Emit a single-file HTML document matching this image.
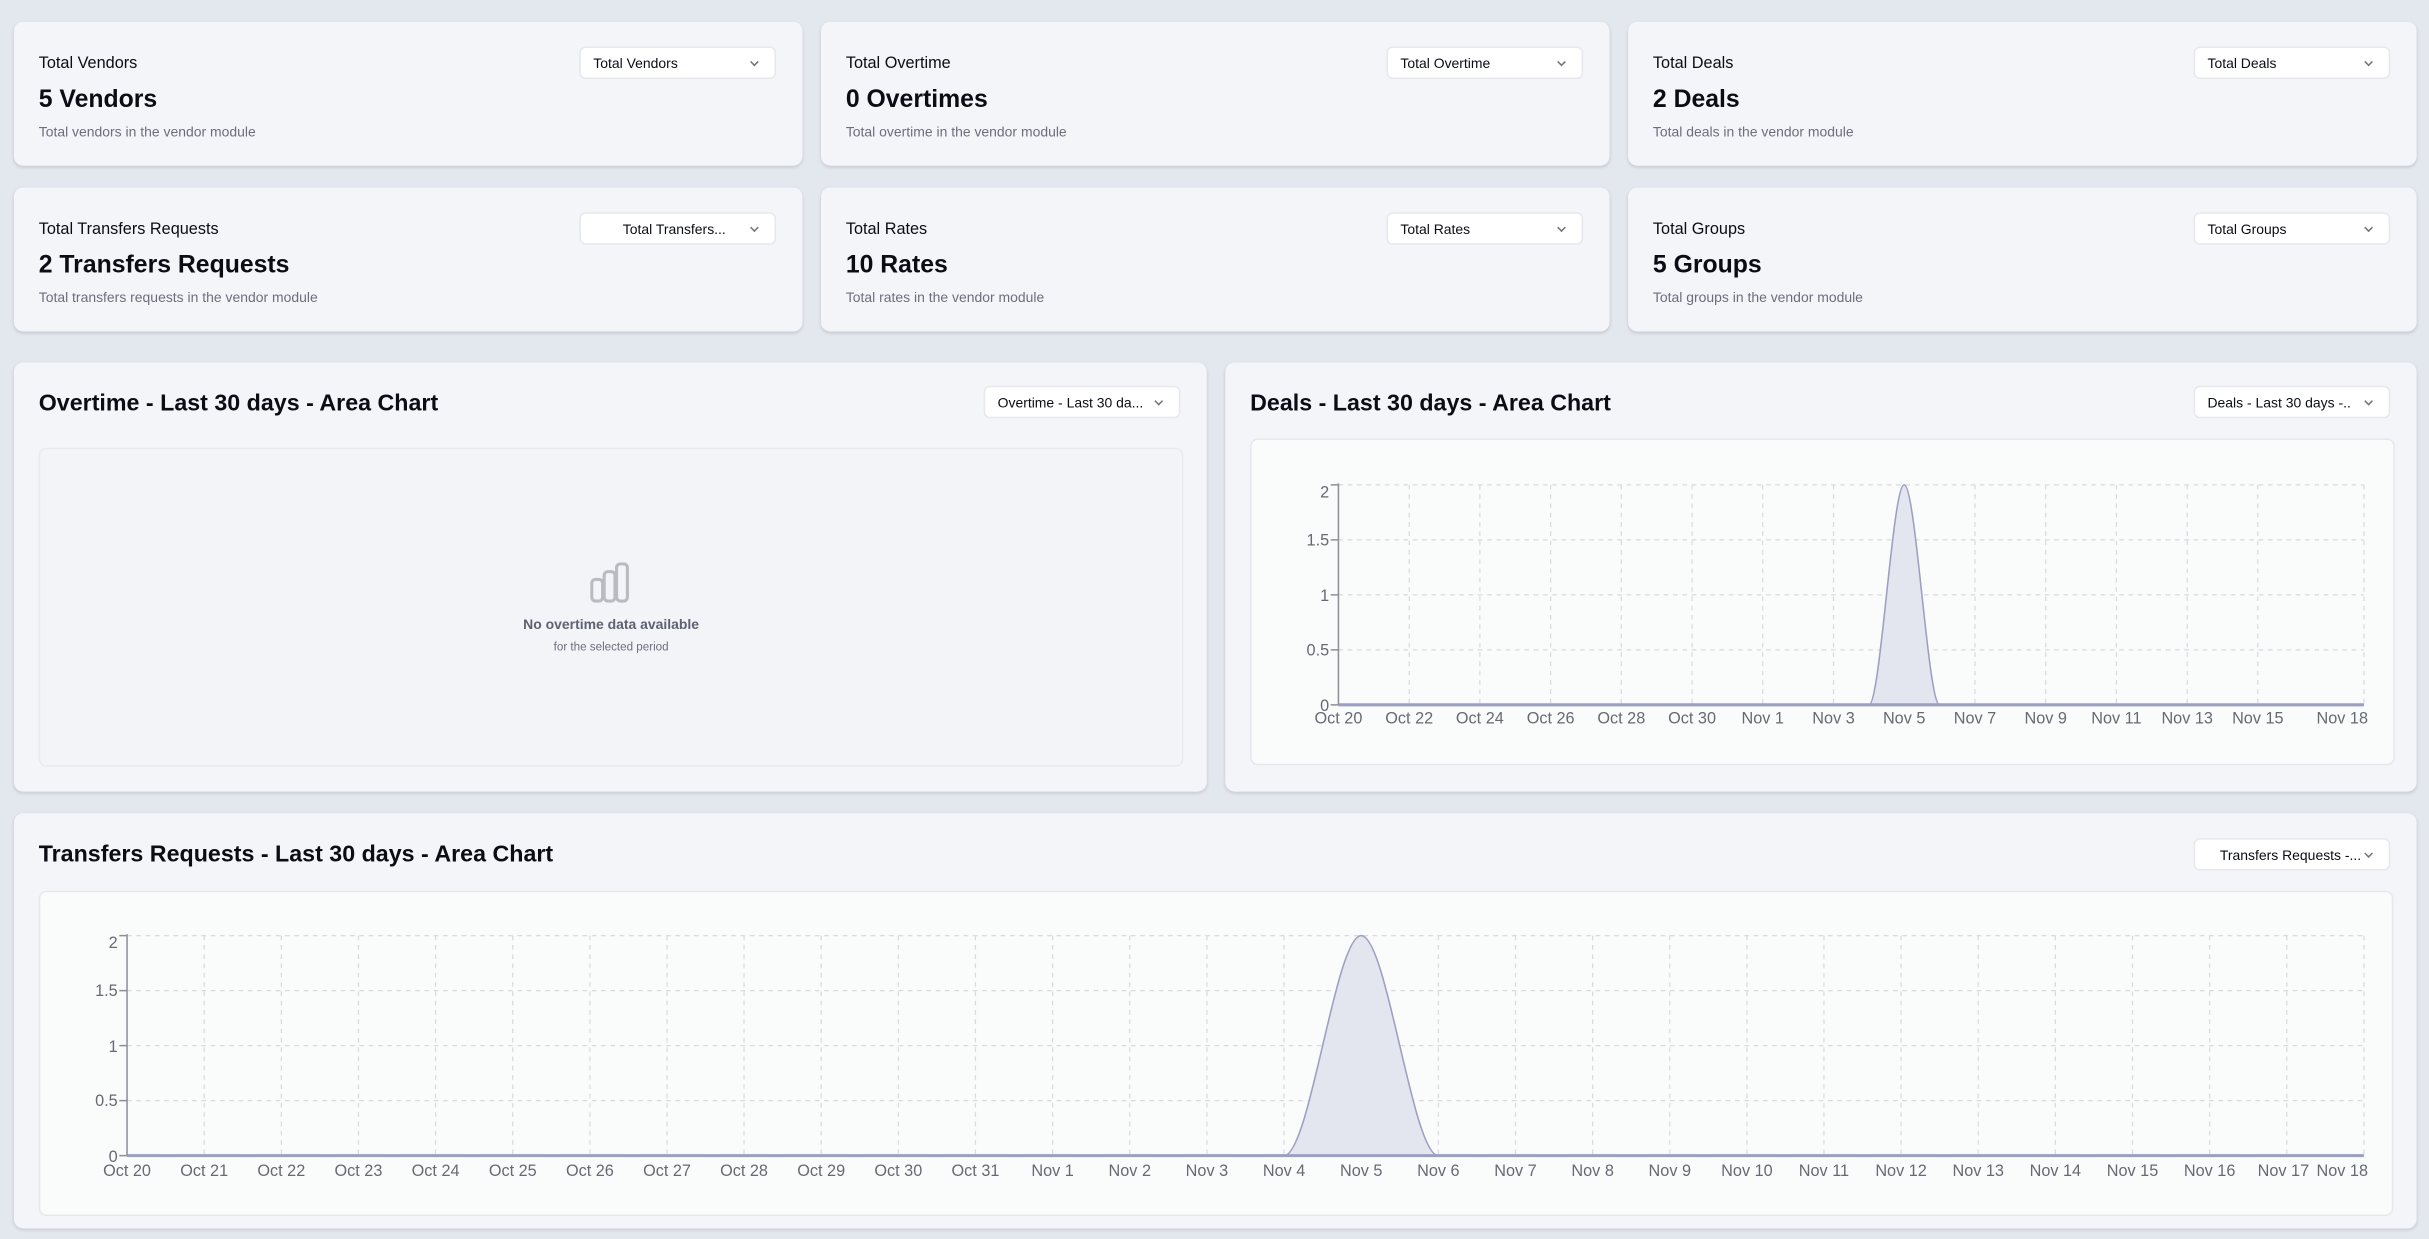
<!DOCTYPE html>
<html><head><meta charset="utf-8"><style>
html,body{margin:0;padding:0;width:2429px;height:1239px;overflow:hidden;background:#e3e7ee;}
#w{position:absolute;left:0;top:0;width:1568px;height:800px;transform:scale(1.54911);transform-origin:0 0;font-family:"Liberation Sans",sans-serif;color:#0b0d14;}
.card{position:absolute;background:#f4f5f9;border-radius:6px;box-shadow:0 1px 2px rgba(0,0,0,.12);}
.t{position:absolute;left:16px;top:21px;font-size:10.5px;}
.v{position:absolute;left:16px;top:42px;font-size:16px;font-weight:bold;}
.d{position:absolute;left:16px;top:66px;font-size:9px;color:#6b6f7c;}
.dd{position:absolute;background:#fff;border:1px solid #e6e8ee;border-radius:4px;height:21px;width:127px;font-size:9px;line-height:21px;box-sizing:border-box;padding-left:8px;}
.dd:after{content:"";position:absolute;right:11px;top:7px;width:3px;height:3px;border-right:1px solid #777;border-bottom:1px solid #777;transform:rotate(45deg);}
.h{position:absolute;left:16px;font-size:15px;font-weight:bold;}
.in{position:absolute;background:#fafbfb;border:1px solid #e6e8ee;border-radius:5px;}
svg text{font-family:"Liberation Sans",sans-serif;font-size:10.5px;fill:#666a73;}
</style></head><body><div id="w">
<div class="card" style="left:9px;top:14px;width:509px;height:93px"><div class="t">Total Vendors</div><div class="v">5 Vendors</div><div class="d">Total vendors in the vendor module</div><div class="dd" style="left:365px;top:16px">Total Vendors</div></div>
<div class="card" style="left:530px;top:14px;width:509px;height:93px"><div class="t">Total Overtime</div><div class="v">0 Overtimes</div><div class="d">Total overtime in the vendor module</div><div class="dd" style="left:365px;top:16px">Total Overtime</div></div>
<div class="card" style="left:1051px;top:14px;width:509px;height:93px"><div class="t">Total Deals</div><div class="v">2 Deals</div><div class="d">Total deals in the vendor module</div><div class="dd" style="left:365px;top:16px">Total Deals</div></div>
<div class="card" style="left:9px;top:121px;width:509px;height:93px"><div class="t">Total Transfers Requests</div><div class="v">2 Transfers Requests</div><div class="d">Total transfers requests in the vendor module</div><div class="dd" style="left:365px;top:16px;padding-left:27px">Total Transfers...</div></div>
<div class="card" style="left:530px;top:121px;width:509px;height:93px"><div class="t">Total Rates</div><div class="v">10 Rates</div><div class="d">Total rates in the vendor module</div><div class="dd" style="left:365px;top:16px">Total Rates</div></div>
<div class="card" style="left:1051px;top:121px;width:509px;height:93px"><div class="t">Total Groups</div><div class="v">5 Groups</div><div class="d">Total groups in the vendor module</div><div class="dd" style="left:365px;top:16px">Total Groups</div></div>

<div class="card" style="left:9px;top:234px;width:770px;height:277px">
<div class="h" style="top:18px">Overtime - Last 30 days - Area Chart</div>
<div class="dd" style="left:626px;top:15px">Overtime - Last 30 da...</div>
<div class="in" style="left:16px;top:55px;width:737px;height:204px;background:#f3f4f8;border-color:#e8eaef">
<svg style="position:absolute;left:355px;top:73px" width="28" height="28" viewBox="0 0 28 28" fill="none" stroke="#b9bbc1" stroke-width="2"><rect x="1" y="11" width="7" height="14" rx="2.5"/><rect x="9" y="6" width="7" height="19" rx="2.5"/><rect x="17" y="1" width="7" height="24" rx="2.5"/></svg>
<div style="position:absolute;left:0;width:737px;top:108px;text-align:center;font-size:9px;font-weight:bold;color:#5d6170">No overtime data available</div>
<div style="position:absolute;left:0;width:737px;top:123px;text-align:center;font-size:7.5px;color:#6b6f7c">for the selected period</div>
</div></div>

<div class="card" style="left:791px;top:234px;width:769px;height:277px">
<div class="h" style="top:18px">Deals - Last 30 days - Area Chart</div>
<div class="dd" style="left:625px;top:15px">Deals - Last 30 days -..</div>
<div class="in" style="left:16px;top:49px;width:737px;height:209px"></div></div>

<div class="card" style="left:9px;top:525px;width:1551px;height:268px">
<div class="h" style="top:18px">Transfers Requests - Last 30 days - Area Chart</div>
<div class="dd" style="left:1407px;top:16px;padding-left:16px">Transfers Requests -...</div>
<div class="in" style="left:16px;top:50px;width:1518px;height:208px"></div></div>

<svg style="position:absolute;left:0;top:0" width="1568" height="800">
<g stroke="#d8dae0" stroke-width="0.8" stroke-dasharray="3 3" fill="none">
<path d="M864 313H1526M864 348.5H1526M864 384H1526M864 419.5H1526"/>
<path d="M909.7 313V455M955.3 313V455M1001 313V455M1046.6 313V455M1092.3 313V455M1137.9 313V455M1183.6 313V455M1229.2 313V455M1274.9 313V455M1320.6 313V455M1366.2 313V455M1411.9 313V455M1457.5 313V455M1526 313V455"/>
<path d="M82 604H1526M82 639.5H1526M82 675H1526M82 710.5H1526"/>
<path d="M131.8 604V746M181.6 604V746M231.4 604V746M281.2 604V746M331 604V746M380.8 604V746M430.6 604V746M480.3 604V746M530.1 604V746M579.9 604V746M629.7 604V746M679.5 604V746M729.3 604V746M779.1 604V746M828.9 604V746M878.7 604V746M928.5 604V746M978.3 604V746M1028.1 604V746M1077.9 604V746M1127.7 604V746M1177.4 604V746M1227.2 604V746M1277 604V746M1326.8 604V746M1376.6 604V746M1426.4 604V746M1476.2 604V746M1526 604V746"/>
</g>
<path d="M1206.4 455C1214 455 1221.6 313 1229.2 313C1236.8 313 1244.5 455 1252.1 455Z" fill="#e3e6ef" stroke="#9c9fc2" stroke-width="1"/>
<path d="M828.9 746C845.5 746 862.1 604 878.7 604C895.3 604 911.9 746 928.5 746Z" fill="#e3e6ef" stroke="#9c9fc2" stroke-width="1"/>
<path d="M864 455H1526M82 746H1526" stroke="#9c9fc2" stroke-width="2"/>
<g stroke="#8e9099" stroke-width="1" fill="none">
<path d="M864 312V455M859 313H864M859 348.5H864M859 384H864M859 419.5H864M859 455H864"/>
<path d="M82 603V746M77 604H82M77 639.5H82M77 675H82M77 710.5H82M77 746H82"/>
</g>
<g text-anchor="end">
<text x="858" y="321">2</text><text x="858" y="352">1.5</text><text x="858" y="388">1</text><text x="858" y="423">0.5</text><text x="858" y="459">0</text>
<text x="76" y="612">2</text><text x="76" y="643">1.5</text><text x="76" y="679">1</text><text x="76" y="714">0.5</text><text x="76" y="750">0</text>
</g>
<g text-anchor="middle">
<text x="864" y="467">Oct 20</text><text x="909.7" y="467">Oct 22</text><text x="955.3" y="467">Oct 24</text><text x="1001" y="467">Oct 26</text><text x="1046.6" y="467">Oct 28</text><text x="1092.3" y="467">Oct 30</text><text x="1137.9" y="467">Nov 1</text><text x="1183.6" y="467">Nov 3</text><text x="1229.2" y="467">Nov 5</text><text x="1274.9" y="467">Nov 7</text><text x="1320.6" y="467">Nov 9</text><text x="1366.2" y="467">Nov 11</text><text x="1411.9" y="467">Nov 13</text><text x="1457.5" y="467">Nov 15</text><text x="1512" y="467">Nov 18</text>
<text x="82" y="759">Oct 20</text><text x="131.8" y="759">Oct 21</text><text x="181.6" y="759">Oct 22</text><text x="231.4" y="759">Oct 23</text><text x="281.2" y="759">Oct 24</text><text x="331" y="759">Oct 25</text><text x="380.8" y="759">Oct 26</text><text x="430.6" y="759">Oct 27</text><text x="480.3" y="759">Oct 28</text><text x="530.1" y="759">Oct 29</text><text x="579.9" y="759">Oct 30</text><text x="629.7" y="759">Oct 31</text><text x="679.5" y="759">Nov 1</text><text x="729.3" y="759">Nov 2</text><text x="779.1" y="759">Nov 3</text><text x="828.9" y="759">Nov 4</text><text x="878.7" y="759">Nov 5</text><text x="928.5" y="759">Nov 6</text><text x="978.3" y="759">Nov 7</text><text x="1028.1" y="759">Nov 8</text><text x="1077.9" y="759">Nov 9</text><text x="1127.7" y="759">Nov 10</text><text x="1177.4" y="759">Nov 11</text><text x="1227.2" y="759">Nov 12</text><text x="1277" y="759">Nov 13</text><text x="1326.8" y="759">Nov 14</text><text x="1376.6" y="759">Nov 15</text><text x="1426.4" y="759">Nov 16</text><text x="1474" y="759">Nov 17</text><text x="1512" y="759">Nov 18</text>
</g>
</svg>
</div></body></html>
